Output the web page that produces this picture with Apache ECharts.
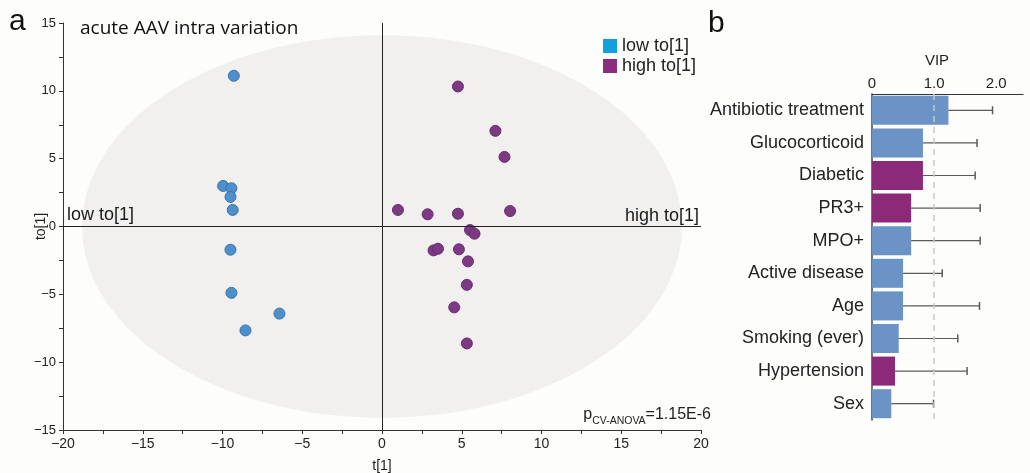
<!DOCTYPE html>
<html><head><meta charset="utf-8">
<script src="https://cdn.jsdelivr.net/npm/echarts@6/dist/echarts.min.js"></script>
<style>html,body{margin:0;padding:0;background:#fdfdfb}#c{width:1030px;height:473px}</style>
</head><body><div id="c"></div>
<script>
// ---- Panel a: OPLS-DA scores ----
const lowPoints = [[-9.29,11.11],[-9.96,2.99],[-9.44,2.82],[-9.50,2.18],[-9.36,1.22],[-9.50,-1.71],[-9.44,-4.89],[-6.43,-6.42],[-8.56,-7.66]];
const highPoints = [[4.76,10.32],[7.11,7.05],[7.68,5.13],[1.00,1.22],[2.86,0.90],[4.76,0.94],[8.03,1.14],[5.52,-0.26],[5.80,-0.53],[3.23,-1.76],[3.51,-1.64],[4.82,-1.68],[5.39,-2.57],[5.32,-4.30],[4.53,-5.96],[5.32,-8.62]];
const ellipseCenter = [0, 0];
const ellipseRadii = [18.8, 14.1];
const seriesNames = ['low to[1]', 'high to[1]'];
const pValueText = '1.15E-6';
// ---- Panel b: VIP ----
const vipCategories = ['Antibiotic treatment','Glucocorticoid','Diabetic','PR3+','MPO+','Active disease','Age','Smoking (ever)','Hypertension','Sex'];
const vipValues = [1.23,0.82,0.82,0.63,0.63,0.50,0.50,0.43,0.37,0.31];
const vipUpper  = [1.94,1.69,1.66,1.74,1.74,1.13,1.73,1.38,1.53,0.99];
const vipGroup  = ['low','low','high','high','low','low','low','low','high','low'];

const AR = 'Liberation Sans, Arial, sans-serif';
const barColors = {low:'#6b93c5', high:'#8b2a78'};

const chart = echarts.init(document.getElementById('c'), null, {renderer:'canvas'});
const fmtMinus = v => (v % 5 === 0) ? String(v).replace('-', '\u2212') : '';

chart.setOption({
  animation:false,
  backgroundColor:'#fdfdfb',
  grid:[
    {left:63, top:23, right:329, bottom:43, containLabel:false, outerBoundsMode:'none'},
    {left:872, top:94, right:7, bottom:53, containLabel:false, outerBoundsMode:'none'}
  ],
  xAxis:[
    {gridIndex:0, type:'value', min:-20, max:20, interval:2.5,
     axisLine:{show:true, onZero:false, lineStyle:{color:'#333', width:1}},
     axisTick:{show:true, length:4, lineStyle:{color:'#333'}},
     axisLabel:{formatter:fmtMinus, fontFamily:AR, fontSize:14, color:'#222', margin:7},
     splitLine:{show:false},
     name:'t[1]', nameLocation:'middle', nameGap:29, nameMoveOverlap:false,
     nameTextStyle:{fontFamily:AR, fontSize:14, color:'#222'}},
    {gridIndex:1, type:'value', position:'top', min:0, max:2.43, interval:1,
     axisLine:{show:true, lineStyle:{color:'#333', width:1.2}},
     axisTick:{show:false},
     axisLabel:{formatter:v => v === 0 ? '0' : v.toFixed(1), fontFamily:AR, fontSize:15, color:'#222', margin:3, showMaxLabel:false},
     splitLine:{show:false}}
  ],
  yAxis:[
    {gridIndex:0, type:'value', min:-15, max:15, interval:2.5,
     axisLine:{show:true, onZero:false, lineStyle:{color:'#333', width:1}},
     axisTick:{show:true, length:4, lineStyle:{color:'#333'}},
     axisLabel:{formatter:fmtMinus, fontFamily:AR, fontSize:13, color:'#222', margin:7},
     splitLine:{show:false},
     name:'to[1]', nameLocation:'middle', nameGap:15, nameMoveOverlap:false,
     nameTextStyle:{fontFamily:AR, fontSize:14, color:'#222'}},
    {gridIndex:1, type:'category', data:vipCategories, inverse:true,
     axisLine:{show:true, lineStyle:{color:'#444', width:1.5}},
     axisTick:{show:false},
     axisLabel:{fontFamily:AR, fontSize:18, color:'#222', margin:8}}
  ],
  legend:{
    left:598, top:32, orient:'vertical', itemWidth:14, itemHeight:14, itemGap:2,
    selectedMode:false,
    textStyle:{fontFamily:AR, fontSize:18, color:'#222'},
    data:[
      {name:seriesNames[0], icon:'rect', itemStyle:{color:'#12a0dc', borderWidth:0}},
      {name:seriesNames[1], icon:'rect', itemStyle:{color:'#8b2c7f', borderWidth:0}}
    ]
  },
  graphic:[
    {type:'text', z:100, x:9, y:22, style:{text:'a', font:'30px Liberation Sans', fill:'#111', verticalAlign:'middle'}},
    {type:'text', z:100, x:708, y:24, style:{text:'b', font:'30px Liberation Sans', fill:'#111', verticalAlign:'middle'}},
    {type:'text', z:100, x:80, y:29, style:{text:'acute AAV intra variation', font:'19px Open Sans', fill:'#111', verticalAlign:'middle'}},
    {type:'text', z:100, x:67, y:215, style:{text:'low to[1]', font:'18px Liberation Sans', fill:'#1a1a1a', verticalAlign:'middle'}},
    {type:'text', z:100, x:699, y:216, style:{text:'high to[1]', font:'18px Liberation Sans', fill:'#1a1a1a', align:'right', verticalAlign:'middle'}},
    {type:'text', z:100, x:937, y:61, style:{text:'VIP', font:'15px Liberation Sans', fill:'#222', align:'center', verticalAlign:'middle'}},
    {type:'text', z:100, x:711, y:425, style:{
      text:'{p|p}{s|CV-ANOVA}{p|=' + pValueText + '}', align:'right', verticalAlign:'bottom',
      rich:{
        p:{fontFamily:AR, fontSize:16, fill:'#222', lineHeight:18, verticalAlign:'top'},
        s:{fontFamily:AR, fontSize:10.5, fill:'#222', lineHeight:11, padding:[9,0,0,0], verticalAlign:'top'}
      }}}
  ],
  series:[
    {type:'custom', xAxisIndex:0, yAxisIndex:0, z:1, silent:true,
     data:[[ellipseCenter[0], ellipseCenter[1], ellipseRadii[0], ellipseRadii[1]]],
     renderItem:(params, api) => {
       const c = api.coord([api.value(0), api.value(1)]);
       const s = api.size([api.value(2), api.value(3)]);
       return {type:'ellipse', shape:{cx:c[0], cy:c[1], rx:s[0], ry:s[1]}, style:{fill:'#f1f0ef'}};
     },
     markLine:{silent:true, symbol:'none', label:{show:false},
       lineStyle:{color:'#222', width:1, type:'solid'},
       data:[{xAxis:0},{yAxis:0}]}
    },
    {name:seriesNames[0], type:'scatter', xAxisIndex:0, yAxisIndex:0, z:3, symbolSize:11,
     itemStyle:{color:'#4d90cb', borderColor:'#3a73a8', borderWidth:1, opacity:1},
     data:lowPoints},
    {name:seriesNames[1], type:'scatter', xAxisIndex:0, yAxisIndex:0, z:3, symbolSize:11,
     itemStyle:{color:'#7b3a82', borderColor:'#6a2b70', borderWidth:1, opacity:1},
     data:highPoints},
    {type:'bar', xAxisIndex:1, yAxisIndex:1, barCategoryGap:'11%', z:2,
     data:vipValues.map((v,i) => ({value:v, itemStyle:{color:barColors[vipGroup[i]]}})),
     markLine:{silent:true, symbol:'none', label:{show:false},
       lineStyle:{color:'#c8c8c8', width:1.5, type:[6,5]},
       data:[{xAxis:1}]}
    },
    {type:'custom', xAxisIndex:1, yAxisIndex:1, z:4, silent:true,
     encode:{x:[0,2], y:1},
     data:vipValues.map((v,i) => [v, i, vipUpper[i]]),
     renderItem:(params, api) => {
       const i = api.value(1);
       const a = api.coord([api.value(0), i]);
       const b = api.coord([api.value(2), i]);
       return {type:'group', children:[
         {type:'line', shape:{x1:a[0], y1:a[1], x2:b[0], y2:b[1]}, style:{stroke:'#5a5a5a', lineWidth:1.2}},
         {type:'line', shape:{x1:b[0], y1:b[1]-4, x2:b[0], y2:b[1]+4}, style:{stroke:'#5a5a5a', lineWidth:1.5}}
       ]};
     }
    }
  ]
});
</script></body></html>
